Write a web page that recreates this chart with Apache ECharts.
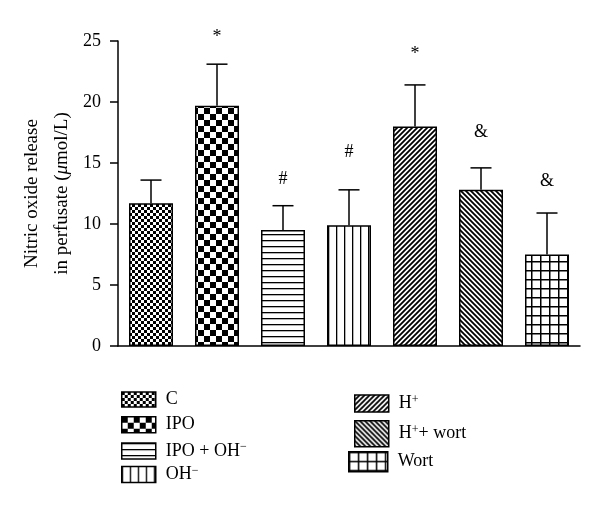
<!DOCTYPE html>
<html><head><meta charset="utf-8">
<script src="https://cdn.jsdelivr.net/npm/echarts@6/dist/echarts.min.js"></script>
<style>html,body{margin:0;padding:0;background:#fff}#c{width:600px;height:508px}</style>
</head><body><div id="c"></div>
<script>
// ---- data ----
const categories = ['C', 'IPO', 'IPO + OH−', 'OH−', 'H+', 'H+ + wort', 'Wort'];
const means  = [11.7, 19.7, 9.5, 9.9, 18.0, 12.8, 7.5];
const errors = [1.9, 3.4, 2.0, 2.9, 3.4, 1.8, 3.4];
const marks  = ['', '*', '#', '#', '*', '&', '&'];
const markAt = [null, 25.3, 13.7, 15.9, 23.9, 17.5, 13.5];   // value where each mark sits
const yTicks = [0, 5, 10, 15, 20, 25];

// ---- patterns ----
function mk(w, h, draw) {
  const c = document.createElement('canvas'); c.width = w; c.height = h;
  const x = c.getContext('2d'); x.fillStyle = '#fff'; x.fillRect(0, 0, w, h);
  x.fillStyle = '#000'; x.strokeStyle = '#000'; draw(x, w, h); return c;
}
const checker = s => mk(2 * s, 2 * s, x => { x.fillRect(0, 0, s, s); x.fillRect(s, s, s, s); });
const hlines = (p, lw) => mk(4, p, (x, w) => x.fillRect(0, 0, w, lw));
const vlines = (p, lw) => mk(p, 4, (x, w, h) => x.fillRect(0, 0, lw, h));
const diag = (p, lw, dir) => mk(p, p, x => {
  x.lineWidth = lw; x.beginPath();
  for (const k of [-p, 0, p]) {
    if (dir > 0) { x.moveTo(k - 1, p + 1); x.lineTo(k + p + 1, -1); }
    else { x.moveTo(k - 1, -1); x.lineTo(k + p + 1, p + 1); }
  }
  x.stroke();
});
const grid = (p, lw) => mk(p, p, x => { x.fillRect(0, 0, p, lw); x.fillRect(0, 0, lw, p); });
const patterns = [checker(3), checker(6), hlines(6, 1.3), vlines(8, 1.3), diag(5, 1.8, 1), diag(5, 1.8, -1), grid(9, 1.5)]
  .map(c => ({ image: c, repeat: 'repeat' }));

// ---- legend layout ----
const legendLayout = [
  { left: 121, top: 389.5, w: 34, h: 15 },
  { left: 121, top: 414.7, w: 34, h: 16 },
  { left: 121, top: 441, w: 34, h: 16 },
  { left: 121, top: 464.5, w: 34, h: 16 },
  { left: 354, top: 393.5, w: 34, h: 17 },
  { left: 354, top: 420, w: 34, h: 26 },
  { left: 348, top: 451, w: 39, h: 20 }
];
const FONT = 'Liberation Serif';
function richName(n) {
  let s = '{n|' + n.replace(/H\+ \+/g, 'H}{s|+}{n|+').replace(/H\+$/g, 'H}{s|+}{n|').replace(/OH−/g, 'OH}{s|−}{n|') + '}';
  return s.replace(/\{n\|\}/g, '');
}

const chart = echarts.init(document.getElementById('c'), null, { renderer: 'canvas' });
const barSeries = categories.map((name, i) => ({
  type: 'bar', name,
  data: categories.map((_, j) => j === i ? means[j] : '-'),
  barWidth: 44, barGap: '-100%',
  itemStyle: { color: patterns[i], borderColor: '#000', borderWidth: 1.5 },
  emphasis: { disabled: true }
}));

const option = {
  animation: false,
  backgroundColor: '#fff',
  grid: { left: 118, right: 20, top: 41, bottom: 162 },
  legend: categories.map((name, i) => ({
    data: [name], left: legendLayout[i].left, top: legendLayout[i].top,
    padding: 0, itemWidth: legendLayout[i].w, itemHeight: legendLayout[i].h,
    icon: 'rect', selectedMode: false,
    itemStyle: { borderColor: '#000', borderWidth: 1.5 },
    formatter: richName,
    textStyle: {
      padding: [0, 0, 0, 5], lineHeight: 20,
      rich: {
        n: { fontFamily: FONT, fontSize: 18, color: '#000', lineHeight: 20 },
        s: { fontFamily: FONT, fontSize: 12, color: '#000', lineHeight: 12, verticalAlign: 'top' }
      }
    }
  })),
  xAxis: {
    type: 'category', data: categories,
    axisLine: { lineStyle: { color: '#000', width: 1.5 } },
    axisTick: { alignWithLabel: true, interval: (i) => i === 3, length: 9, lineStyle: { color: '#000', width: 1.5 } },
    axisLabel: { show: false }, splitLine: { show: false }
  },
  yAxis: {
    type: 'value', min: yTicks[0], max: yTicks[yTicks.length - 1], interval: yTicks[1] - yTicks[0],
    axisLine: { show: true, lineStyle: { color: '#000', width: 1.5 } },
    axisTick: { show: true, length: 8, lineStyle: { color: '#000', width: 1.5 } },
    axisLabel: { fontFamily: FONT, fontSize: 18, color: '#000', margin: 17 },
    splitLine: { show: false },
    name: '{a|Nitric oxide release}\n{a|in perfusate (}{i|μ}{a|mol/L)}',
    nameLocation: 'middle', nameRotate: 90, nameGap: 41, nameMoveOverlap: false,
    nameTextStyle: {
      lineHeight: 30,
      rich: {
        a: { fontFamily: FONT, fontSize: 19, color: '#000', lineHeight: 30 },
        i: { fontFamily: FONT, fontSize: 19, color: '#000', fontStyle: 'italic', lineHeight: 30 }
      }
    }
  },
  series: barSeries.concat([{
    type: 'custom', name: 'err',
    data: means.map((m, i) => [i, m, errors[i], markAt[i] == null ? m : markAt[i]]),
    encode: { x: 0, y: 1 },
    z: 3,
    renderItem: (params, api) => {
      const i = params.dataIndex;
      const x = api.value(0), m = api.value(1), e = api.value(2), ma = api.value(3);
      const p0 = api.coord([x, m]), p1 = api.coord([x, m + e]);
      const half = 10.5;
      const ch = [
        { type: 'line', shape: { x1: p0[0], y1: p0[1], x2: p1[0], y2: p1[1] }, style: { stroke: '#000', lineWidth: 1.5 } },
        { type: 'line', shape: { x1: p1[0] - half, y1: p1[1], x2: p1[0] + half, y2: p1[1] }, style: { stroke: '#000', lineWidth: 1.5 } }
      ];
      if (marks[i]) {
        const pm = api.coord([x, ma]);
        ch.push({
          type: 'text', x: pm[0], y: pm[1],
          style: { text: marks[i], align: 'center', verticalAlign: 'middle', font: '18px "' + FONT + '"', fill: '#000' }
        });
      }
      return { type: 'group', children: ch };
    }
  }])
};
chart.setOption(option);
</script>
</body></html>
